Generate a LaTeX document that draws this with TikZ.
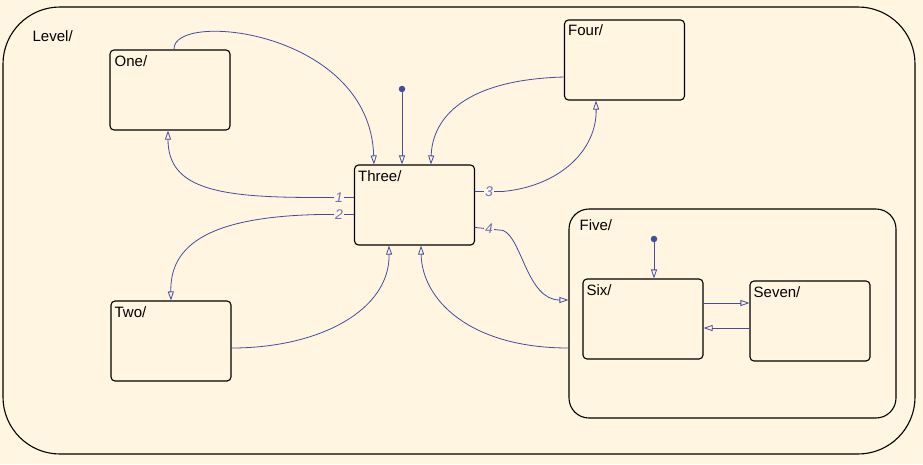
\documentclass[tikz,border=0pt]{standalone}
\usepackage{fontspec}
\setmainfont{Liberation Sans}
\usetikzlibrary{arrows.meta}
\usetikzlibrary{calc}
\definecolor{bgcream}{RGB}{255,245,225}
\definecolor{trblue}{RGB}{68,76,158}
\definecolor{numblue}{RGB}{108,116,190}
\tikzset{
  state/.style={draw,line width=1.1pt,rounded corners=4pt,minimum width=120pt,minimum height=80pt,inner sep=0pt},
  trans/.style={draw=trblue,line width=0.8pt,-{Triangle[open,length=9pt,width=6pt]}},
  num/.style={fill=bgcream,text=numblue,font=\fontsize{14}{14}\selectfont\itshape,inner sep=1pt},
  dot/.style={circle,fill=trblue,inner sep=0pt,minimum size=6.5pt},
  stname/.style={anchor=north west,inner sep=0pt}
}
\begin{document}
\begin{tikzpicture}[line cap=round,line join=round,x=1pt,y=-1pt,font=\fontsize{15}{18}\selectfont]
\useasboundingbox[fill=bgcream] (0,0) rectangle (923,464);
% outer states
\node[state,rounded corners=57pt,minimum width=912pt,minimum height=447pt] (level) at (459,230.5) {};
\node[stname] at ($(level.north west)+(30,24)$) {Level/};
\node[state,rounded corners=20pt,minimum width=327pt,minimum height=209pt] (five) at (732.5,313.5) {};
\node[stname] at ($(five.north west)+(11,11)$) {Five/};
% leaf states
\node[state] (one) at (170,90) {};
\node[stname] at ($(one.north west)+(5,6)$) {One/};
\node[state] (four) at (624.5,60) {};
\node[stname] at ($(four.north west)+(4,5)$) {Four/};
\node[state] (three) at (414.5,205) {};
\node[stname] at ($(three.north west)+(4,6)$) {Three/};
\node[state] (two) at (171,341) {};
\node[stname] at ($(two.north west)+(4,6)$) {Two/};
\node[state] (six) at (643,319) {};
\node[stname] at ($(six.north west)+(4,6)$) {Six/};
\node[state] (seven) at (810,321) {};
\node[stname] at ($(seven.north west)+(4,6)$) {Seven/};
% default transitions
\node[dot] (init3) at (402,89) {};
\draw[trans] (init3) -- (init3 |- three.north);
\node[dot] (init6) at (654,239) {};
\draw[trans] (init6) -- (init6 |- six.north);
% transitions of Level
\draw[trans] ($(one.north)+(4,0)$) .. controls (172,10) and (370,30) .. ($(three.north west)+(20,0)$);
\draw[trans] ($(three.north west)+(0,33)$) -- ++(-30,0) node[num,pos=0.5] {1}
  .. controls (220,198) and (168,190) .. ($(one.south)+(-2,0)$);
\draw[trans] ($(three.north west)+(0,50)$) -- ++(-30,0) node[num,pos=0.5] {2}
  .. controls (200,216) and (170,250) .. (two.north);
\draw[trans] ($(two.east)+(0,7)$) .. controls (320,348) and (390,310) .. ($(three.south west)+(35,0)$);
\draw[trans] ($(three.north east)+(0,27)$) -- ++(28,0) node[num,pos=0.5] {3}
  .. controls (560,186) and (597,150) .. ($(four.south west)+(32,0)$);
\draw[trans] ($(four.west)+(0,17)$) .. controls (455,80) and (432,125) .. ($(three.north west)+(77,0)$);
\draw[trans] ($(three.north east)+(0,63)$) -- ++(28,3) node[num,pos=0.5] {4}
  .. controls (522,238) and (527,300) .. ($(five.west)+(0,-13.5)$);
\draw[trans] ($(five.west)+(0,34.5)$) .. controls (470,348) and (422,300) .. ($(three.south west)+(67,0)$);
% transitions of Five
\coordinate (s67) at ($(six.east)+(0,-16)$);
\coordinate (s76) at ($(seven.west)+(0,7)$);
\draw[trans] (s67) -- (s67 -| seven.west);
\draw[trans] (s76) -- (s76 -| six.east);
\end{tikzpicture}
\end{document}
